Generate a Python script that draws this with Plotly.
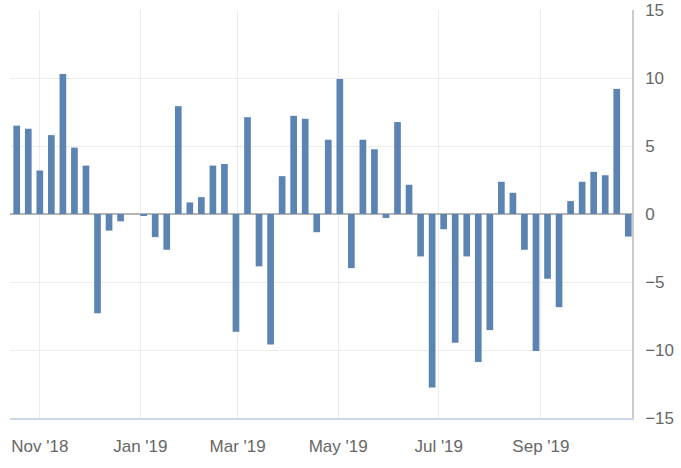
import plotly.graph_objects as go
import pandas as pd

start_date = "2018-10-18"
values = [6.5, 6.27, 3.2, 5.8, 10.3, 4.88, 3.56, -7.3, -1.22, -0.54,
          None, -0.1, -1.7, -2.63, 7.93, 0.85, 1.24, 3.56, 3.68, -8.66,
          7.12, -3.85, -9.59, 2.78, 7.22, 7.0, -1.34, 5.46, 9.93, -3.98,
          5.46, 4.76, -0.29, 6.76, 2.15, -3.12, -12.76, -1.12, -9.46, -3.12,
          -10.88, -8.54, 2.37, 1.56, -2.63, -10.07, -4.76, -6.85, 0.95, 2.37,
          3.1, 2.85, 9.2, -1.66]
dates = pd.date_range(start_date, periods=len(values), freq="7D")

y_ticks = [-15, -10, -5, 0, 5, 10, 15]

fig = go.Figure(go.Bar(
    x=dates, y=values,
    marker=dict(color="#5b84b3", line=dict(width=0)),
    width=4.06 * 86400000,
))

font = dict(family="Liberation Sans, Arial, sans-serif", size=17, color="#666666")

fig.update_layout(
    width=681, height=468,
    margin=dict(l=10, r=49, t=10, b=50),
    paper_bgcolor="white", plot_bgcolor="white",
    showlegend=False,
    font=font,
    xaxis=dict(
        type="date",
        range=["2018-10-13 22:00", "2019-10-26 06:00"],
        tick0="2018-11-01", dtick="M2", tickformat="%b '%y",
        showgrid=True, gridcolor="#ececec", gridwidth=1,
        showline=True, linecolor="#ccd6eb", linewidth=1.5,
        ticks="outside", ticklen=12, tickcolor="rgba(0,0,0,0)",
        tickfont=font, zeroline=False, automargin=False,
    ),
    yaxis=dict(
        side="right",
        range=[-15, 15],
        tickvals=y_ticks,
        ticklabeloverflow="allow",
        automargin=False,
        showgrid=True, gridcolor="#ececec", gridwidth=1,
        showline=True, linecolor="#cccccc", linewidth=1.5,
        zeroline=True, zerolinecolor="#b5b5b5", zerolinewidth=2,
        ticks="outside", ticklen=8, tickcolor="rgba(0,0,0,0)",
        tickfont=font,
    ),
)

fig.write_html("out.html")
